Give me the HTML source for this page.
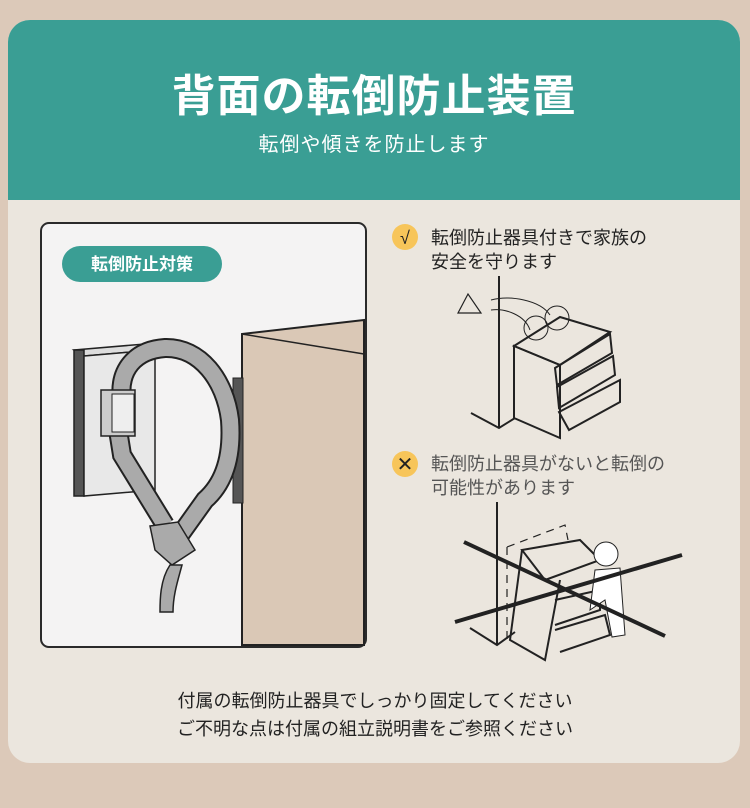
<!DOCTYPE html>
<html><head><meta charset="utf-8"><style>
body{margin:0;width:750px;height:808px;background:#dcc9b9;font-family:"Liberation Sans","Noto Sans CJK JP",sans-serif;position:relative;overflow:hidden}
.card{position:absolute;left:8px;top:20px;width:732px;height:743px;border-radius:22px;background:#ebe6de;overflow:hidden}
.hd{position:absolute;left:0;top:0;width:732px;height:180px;background:#3a9e94;color:#fff;text-align:center}
.t1{position:absolute;top:40px;width:100%;font-size:44px;font-weight:bold;letter-spacing:1px}
.t2{position:absolute;top:108px;width:100%;font-size:20px;letter-spacing:1px}
.txt{position:absolute;font-size:18px;line-height:24px;color:#222}
.bt{position:absolute;left:0;width:750px;text-align:center;font-size:18px;color:#222}
</style></head><body>
<div class="card"><div class="hd"><div class="t1">背面の転倒防止装置</div><div class="t2">転倒や傾きを防止します</div></div></div>
<svg style="position:absolute;left:0;top:0" width="750" height="808">
<rect x="41" y="223" width="325" height="424" rx="8" fill="#f4f3f3" stroke="#2a2a2a" stroke-width="2"/>
<rect x="62" y="246" width="160" height="36" rx="18" fill="#3a9e94"/>
<text x="142" y="270" text-anchor="middle" fill="#fff" font-size="17" font-weight="bold" font-family="Liberation Sans,Noto Sans CJK JP,sans-serif">転倒防止対策</text>
<polygon points="242,334 364,320 364,645 242,645" fill="#dac8b6" stroke="#222" stroke-width="2"/>
<polyline points="242,334 364,354" fill="none" stroke="#222" stroke-width="1.5"/>
<rect x="233" y="378" width="10" height="125" fill="#555" stroke="#222"/>
<polygon points="74,350 145,344 155,350 84,356" fill="#ddd" stroke="#222" stroke-width="1.5"/>
<rect x="74" y="350" width="10" height="146" fill="#555" stroke="#222" stroke-width="1.5"/>
<polygon points="84,356 155,350 155,490 84,496" fill="#e8e8e8" stroke="#222" stroke-width="1.5"/>
<path d="M122,400 C118,370 135,350 165,348 C200,347 225,380 230,420 C233,460 222,485 205,500 L180,535" fill="none" stroke="#222" stroke-width="20"/>
<path d="M122,400 C118,370 135,350 165,348 C200,347 225,380 230,420 C233,460 222,485 205,500 L180,535" fill="none" stroke="#aaa" stroke-width="16"/>
<path d="M118,430 L122,455 L165,525" fill="none" stroke="#222" stroke-width="20"/>
<path d="M118,430 L122,455 L165,525" fill="none" stroke="#aaa" stroke-width="16"/>
<rect x="101" y="390" width="34" height="46" fill="#ccc" stroke="#222" stroke-width="1.5"/>
<rect x="112" y="394" width="22" height="38" fill="#eee" stroke="#222"/>
<polygon points="150,526 178,522 195,550 172,565 155,550" fill="#aaa" stroke="#222" stroke-width="1.5"/>
<path d="M170,565 C160,580 160,600 160,612 L173,612 C173,595 178,580 182,565Z" fill="#aaa" stroke="#222" stroke-width="1.5"/>
<circle cx="405" cy="237" r="13" fill="#f7c55a"/><text x="405" y="244" text-anchor="middle" font-size="18" fill="#222">√</text>
<circle cx="405" cy="464" r="13" fill="#f7c55a"/><text x="405" y="471" text-anchor="middle" font-size="20" fill="#222">✕</text>
<g fill="none" stroke="#222" stroke-width="2">
<line x1="499" y1="276" x2="499" y2="428"/><polyline points="471,413 499,428 515,418"/>
<polygon points="468,294 458,313 481,313" stroke-width="1.2"/>
<path d="M491,300 C510,295 540,300 550,315 M491,310 C505,308 525,315 530,330" stroke-width="1"/>
<circle cx="536" cy="328" r="12" stroke-width="1"/><circle cx="557" cy="318" r="12" stroke-width="1"/>
<polygon points="514,346 560,317 610,332 560,365"/>
<polygon points="514,346 560,365 560,438 514,418"/>
<polygon points="555,368 610,334 612,353 557,385"/>
<polygon points="557,387 613,356 615,375 559,408"/>
<polygon points="559,412 620,380 620,402 569,430"/>
<line x1="497" y1="502" x2="497" y2="645"/><polyline points="470,628 497,645 515,632"/>
<polyline points="507,547 565,525 568,540" stroke-dasharray="8,6" stroke-width="1.2"/>
<line x1="507" y1="547" x2="507" y2="640" stroke-dasharray="8,6" stroke-width="1.2"/>
<polygon points="522,550 580,540 600,560 545,580"/>
<polyline points="522,550 510,640 545,660 560,580"/>
<polyline points="555,600 600,590 600,610 555,625"/>
<polyline points="555,630 605,615 610,635 560,652"/>
</g>
<circle cx="606" cy="554" r="12" fill="#fff" stroke="#222"/>
<path d="M595,570 L620,568 L625,635 L612,637 L605,600 L590,610 Z" fill="#fff" stroke="#222"/>
<line x1="464" y1="542" x2="665" y2="636" stroke="#222" stroke-width="4"/>
<line x1="455" y1="622" x2="682" y2="555" stroke="#222" stroke-width="4"/>
</svg>
<div class="txt" style="left:431px;top:226px">転倒防止器具付きで家族の<br>安全を守ります</div>
<div class="txt" style="left:431px;top:452px;color:#555">転倒防止器具がないと転倒の<br>可能性があります</div>
<div class="bt" style="top:687px">付属の転倒防止器具でしっかり固定してください</div>
<div class="bt" style="top:715px">ご不明な点は付属の組立説明書をご参照ください</div>
</body></html>
